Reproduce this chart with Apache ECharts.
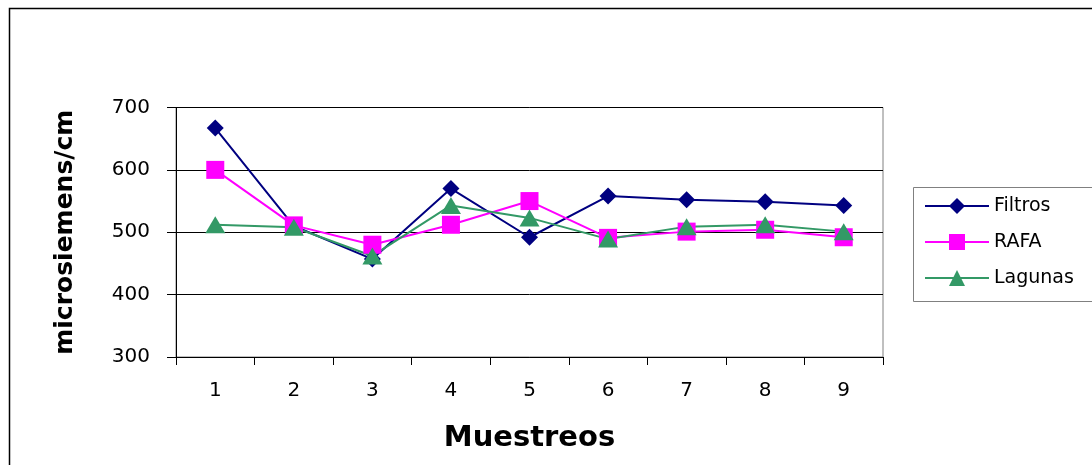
<!DOCTYPE html>
<html>
<head>
<meta charset="utf-8">
<script src="https://cdn.jsdelivr.net/npm/echarts@6/dist/echarts.min.js"></script>
<style>
html,body{margin:0;padding:0;background:#fff;}
#chart{width:1092px;height:465px;}
</style>
</head>
<body>
<div id="chart"></div>
<script>
const categories = ['1','2','3','4','5','6','7','8','9'];
const filtros = [667, 510, 457, 570, 492, 558, 552, 549, 543];
const rafa    = [600, 511, 480, 512, 550, 491, 501, 504, 492];
const lagunas = [512, 508, 462, 543, 523, 489, 509, 512, 501];
const yMin = 300, yMax = 700, yStep = 100;

const FONT = '"DejaVu Sans", "Liberation Sans", Arial, sans-serif';

const chart = echarts.init(document.getElementById('chart'), null, {renderer: 'canvas'});
chart.setOption({
  animation: false,
  backgroundColor: '#ffffff',
  graphic: [{
    type: 'rect',
    shape: {x: 9.5, y: 8.5, width: 1200, height: 600},
    style: {fill: 'none', stroke: '#000', lineWidth: 1.5},
    silent: true
  }, {
    type: 'rect',
    shape: {x: 913.5, y: 187.5, width: 300, height: 114},
    style: {fill: 'none', stroke: '#808080', lineWidth: 1},
    silent: true
  }],
  grid: {
    left: 176, top: 107.5, right: 209, bottom: 108,
    show: true, borderColor: '#808080', borderWidth: 1, backgroundColor: 'transparent'
  },
  legend: {
    left: 913, top: 187,
    orient: 'vertical',
    itemWidth: 64, itemHeight: 20,
    itemGap: 16,
    padding: [9, 10, 14, 11],
    borderWidth: 0,
    textStyle: {fontFamily: FONT, fontSize: 19, color: '#000', lineHeight: 20},
    data: ['Filtros', 'RAFA', 'Lagunas']
  },
  xAxis: {
    type: 'category',
    data: categories,
    boundaryGap: true,
    name: 'Muestreos',
    nameLocation: 'middle',
    nameGap: 67,
    nameTextStyle: {fontFamily: FONT, fontSize: 29, fontWeight: 'bold', color: '#000'},
    axisLine: {lineStyle: {color: '#000', width: 1}},
    axisTick: {show: true, length: 8, inside: false, lineStyle: {color: '#000'}},
    axisLabel: {fontFamily: FONT, fontSize: 20, color: '#000', margin: 24},
    splitLine: {show: false}
  },
  yAxis: {
    type: 'value',
    min: yMin, max: yMax, interval: yStep,
    name: 'microsiemens/cm',
    nameLocation: 'middle',
    nameGap: 98,
    nameRotate: 90,
    nameTextStyle: {fontFamily: FONT, fontSize: 25, fontWeight: 'bold', color: '#000'},
    axisLine: {show: true, lineStyle: {color: '#000', width: 1}},
    axisTick: {show: true, length: 9, inside: false, lineStyle: {color: '#000'}},
    axisLabel: {fontFamily: FONT, fontSize: 20, color: '#000', margin: 26},
    splitLine: {show: true, lineStyle: {color: '#000', width: 1}}
  },
  series: [
    {
      name: 'Filtros', type: 'line', data: filtros,
      symbol: 'diamond', symbolSize: 17,
      lineStyle: {color: '#000080', width: 2},
      itemStyle: {color: '#000080'}
    },
    {
      name: 'RAFA', type: 'line', data: rafa,
      symbol: 'rect', symbolSize: 18,
      lineStyle: {color: '#FF00FF', width: 2},
      itemStyle: {color: '#FF00FF'}
    },
    {
      name: 'Lagunas', type: 'line', data: lagunas,
      symbol: 'triangle', symbolSize: [20, 17],
      lineStyle: {color: '#339966', width: 2},
      itemStyle: {color: '#339966'}
    }
  ]
});
</script>
</body>
</html>
